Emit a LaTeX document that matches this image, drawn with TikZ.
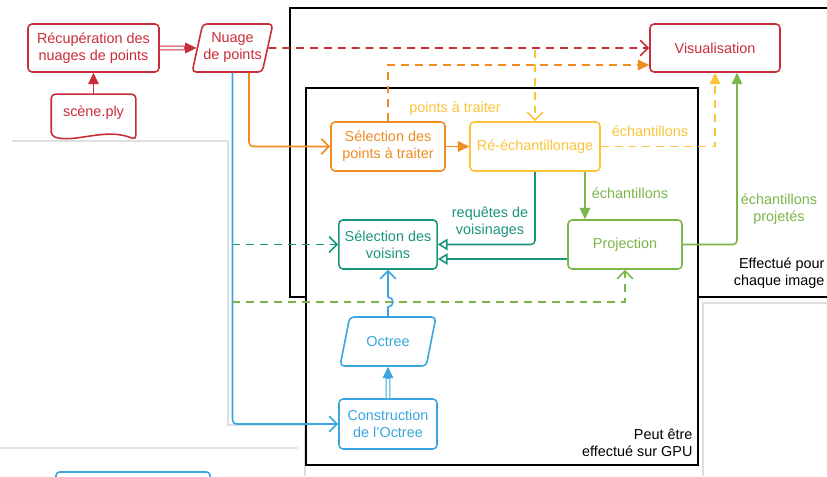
\documentclass[tikz,border=0pt]{standalone}
\usepackage{fontspec}
\setmainfont{Liberation Sans}
\usepackage{tikz}
\usetikzlibrary{arrows.meta,shapes.geometric,calc}
\definecolor{cred}{HTML}{C92D39}
\definecolor{corange}{HTML}{EF8D22}
\definecolor{cyellow}{HTML}{FCC438}
\definecolor{cgreen}{HTML}{7AB648}
\definecolor{cteal}{HTML}{19967D}
\definecolor{cblue}{HTML}{3AA6DD}
\tikzset{
  box/.style={draw=#1, text=#1, rounded corners=2.3pt, line width=0.9pt, align=center, fill=white},
  slanted/.style={box=#1, trapezium, trapezium left angle=76, trapezium right angle=104,
    trapezium stretches=true, inner xsep=0pt},
  dsh/.style={dash pattern=on 4.5pt off 3.4pt},
  tofill/.style={-{Triangle[length=6.5pt,width=6pt]}},
  toopen/.style={-{Straight Barb[length=4.5pt,width=9pt]}},
  tohollow/.style={-{Triangle[open,length=5.5pt,width=6.5pt]}},
}

\begin{document}
\begin{tikzpicture}[every node/.style={font=\fontsize{8.2}{9.7}\selectfont}, line width=0.9pt]
  \clip (0,0) rectangle (16.54,9.52);
  \draw[gray!25, line width=0.6pt] (0.24,6.7) -- (4.56,6.7) -- (4.56,1.02) -- (6.1,1.02) -- (6.1,0);
  \draw[gray!20, line width=0.6pt] (0,0.56) -- (5.96,0.56);
  \draw[gray!25, line width=0.6pt] (14.06,0) -- (14.06,3.46) -- (16.6,3.46);
  \draw[cblue, rounded corners=2pt] (1.12,-0.3) rectangle (4.2,0.08);

  \draw[line width=1.1pt, fill=white] (5.80,3.58) rectangle (16.8,9.36);
  \node[anchor=east, align=right, inner xsep=1pt] (lblimg) at (16.54,4.06) {Effectué pour\\chaque image};
  \draw[line width=1.1pt, fill=white] (6.12,0.22) rectangle (13.96,7.76);
  \node[anchor=east, align=right, inner xsep=1pt] (lblgpu) at (13.90,0.67) {Peut être\\effectué sur GPU};

  \node[box=cred, minimum width=2.62cm, minimum height=0.96cm] (recup) at (1.87,8.56) {Récupération des\\nuages de points};
  \node[slanted=cred, minimum width=1.62cm, minimum height=0.96cm] (nuage) at (4.65,8.56) {Nuage\\de points};
  \node[box=cred, minimum width=2.6cm, minimum height=0.96cm] (visu) at (14.30,8.56) {Visualisation};
  \node[text=cred, minimum width=1.66cm, minimum height=0.72cm] (scene) at (1.87,7.26) {scène.ply};
  \node[box=corange, minimum width=2.28cm, minimum height=0.98cm] (selpts) at (7.76,6.59) {Sélection des\\points à traiter};
  \node[box=cyellow, minimum width=2.6cm, minimum height=0.98cm] (reech) at (10.70,6.59) {Ré-échantillonage};
  \node[box=cteal, minimum width=1.96cm, minimum height=0.98cm] (selvois) at (7.76,4.63) {Sélection des\\voisins};
  \node[box=cgreen, minimum width=2.28cm, minimum height=0.98cm] (proj) at (12.50,4.63) {Projection};
  \node[slanted=cblue, minimum width=1.92cm, minimum height=0.98cm] (octree) at (7.76,2.69) {Octree};
  \node[box=cblue, minimum width=1.96cm, minimum height=1.0cm] (constr) at (7.76,1.04) {Construction\\de l'Octree};

  \node[text=cyellow] (lblpts) at (9.10,7.34) {points à traiter};
  \node[text=cyellow] (lblech) at (13.0,6.90) {échantillons};
  \node[text=cgreen] (lblechg) at (12.6,5.66) {échantillons};
  \node[text=cteal, align=center] (lblreq) at (9.80,5.08) {requêtes de\\voisinages};
  \node[text=cgreen, align=center] (lblproj) at (15.58,5.34) {échantillons\\projetés};

  \draw[cred, rounded corners=2.3pt] ([yshift=-0.08cm]scene.south west) -- (scene.north west) -- (scene.north east) -- ([yshift=-0.16cm]scene.south east) .. controls +(-0.6,0.26) and +(0.46,-0.16) .. ([yshift=-0.08cm]scene.south west) -- cycle;
  \draw[cred, tofill] (scene.north) -- (recup.south);
  \draw[cred, line width=0.6pt, double, double distance=1.5pt] (recup.east) -- ($(nuage.west)+(-0.2,0)$);
  \draw[cred, tofill] ($(nuage.west)+(-0.25,0)$) -- (nuage.west);
  \draw[cred, dsh, toopen] (nuage.east) -- (visu.west);
  \coordinate (rsplit) at (reech.north |- nuage.east);
  \draw[cyellow, dsh, toopen] ([yshift=-0.04cm]rsplit) -- (reech.north);
  \coordinate (vo) at ($(visu.west)+(0,-0.34)$);
  \draw[corange, dsh, tofill] (selpts.north) |- (vo);
  \draw[corange, toopen, rounded corners=2.3pt] ($(nuage.south)+(0.33,0)$) |- (selpts.west);
  \draw[cblue, toopen, rounded corners=2.3pt] (nuage.south) |- (constr.west);
  \draw[corange, tofill] (selpts.east) -- (reech.west);
  \draw[cyellow, dsh, tofill] (reech.east) -| (visu.south);
  \coordinate (pn) at ($(proj.north)+(-0.8,0)$);
  \draw[cgreen, tofill] (reech.south -| pn) -- (pn);
  \draw[cteal, tohollow, rounded corners=2.3pt] (reech.south) |- (selvois.east);
  \draw[cteal, tohollow] ($(proj.west)+(0,-0.29)$) -- ($(selvois.east)+(0,-0.29)$);
  \coordinate (vg) at ($(visu.south)+(0.44,0)$);
  \draw[cgreen, tofill, rounded corners=2.3pt] (proj.east) -| (vg);
  \coordinate (bt) at (nuage.south |- selvois.west);
  \draw[cteal, dsh, toopen] (bt) -- (selvois.west);
  \coordinate (gl) at (0,3.48);
  \coordinate (bg) at (nuage.south |- gl);
  \draw[cgreen, dsh, toopen] (bg) -| (proj.south);
  \draw[cblue, line width=0.6pt, double, double distance=1.5pt] (constr.north) -- ($(octree.south)+(0,-0.2)$);
  \draw[cblue, tofill] ($(octree.south)+(0,-0.25)$) -- (octree.south);
  \coordinate (jmp) at (octree.north |- bg);
  \draw[cblue, toopen] (octree.north) -- ($(jmp)+(0,-0.1)$) arc[start angle=-90, end angle=90, radius=0.1] -- (selvois.south);
\end{tikzpicture}
\end{document}
